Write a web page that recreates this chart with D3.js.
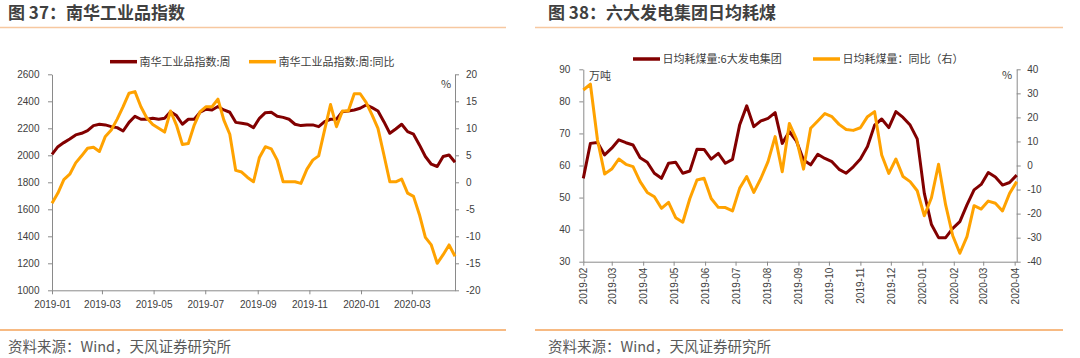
<!DOCTYPE html>
<html><head><meta charset="utf-8">
<script src="https://cdn.jsdelivr.net/npm/d3@7"></script>
<style>body{margin:0;background:#fff} svg{display:block}</style>
</head><body><svg id="c" width="1080" height="358"></svg>
<script>
// ---- Figure 37: Nanhua industrial index (weekly) ----
const nhStart = "2019-01-04";
const nhEnd = "2020-04-24";
const nhIndex = [2007,2064,2094,2121,2151,2163,2183,2220,2230,2225,
  2212,2205,2180,2244,2289,2267,2267,2274,2267,2274,
  2323,2294,2230,2267,2267,2319,2341,2336,2361,2336,
  2319,2244,2237,2230,2205,2274,2316,2319,2289,2281,
  2267,2230,2220,2225,2225,2212,2249,2267,2267,2323,
  2328,2336,2348,2373,2353,2328,2249,2163,2195,2230,
  2175,2156,2077,1991,1934,1917,1991,2002,1948];
const nhYoY = [-3.9,-2.0,0.5,1.5,3.6,4.9,6.3,6.5,5.7,8.5,
  9.7,11.7,14.0,16.5,16.8,14.0,11.9,10.7,10.0,9.3,
  13.2,10.6,7.0,7.2,10.6,13.1,14.0,14.0,15.4,11.5,
  8.9,2.2,1.9,0.9,0.1,4.6,6.6,6.2,4.1,0.1,
  0.1,0.1,-0.2,2.4,4.1,4.9,9.7,14.4,10.3,13.2,
  13.2,16.4,16.4,14.8,12.5,10.0,5.1,0.1,0.1,0.6,
  -2.0,-2.6,-6.0,-10.2,-11.6,-15.0,-13.4,-11.6,-13.7];
const nhLeftTicks = [1000,1200,1400,1600,1800,2000,2200,2400,2600];
const nhRightTicks = [-20,-15,-10,-5,0,5,10,15,20];
const nhSeriesNames = ["南华工业品指数:周","南华工业品指数:周:同比"];

// ---- Figure 38: daily coal consumption, 6 power groups (weekly) ----
const cdStart = "2019-02-01";
const cdEnd = "2020-04-03";
const cdConsumption = [56.0,66.9,67.2,63.3,65.4,68.0,67.1,66.4,62.4,61.0,
  57.6,56.0,60.7,61.0,57.6,58.3,65.1,65.0,62.0,63.8,
  60.7,61.9,72.6,78.6,72.1,73.9,74.7,76.5,66.9,70.6,
  67.6,61.7,60.2,63.5,62.2,61.2,58.8,57.6,59.6,62.0,
  65.9,72.6,74.5,71.8,76.8,75.0,72.6,68.3,51.3,41.6,
  37.5,37.5,40.4,42.5,47.7,52.4,54.1,57.8,56.4,53.9,
  54.7,57.0];
const cdYoY = [31.4,33.8,10.6,-3.5,-1.5,2.7,0.5,-0.5,-6.7,-11.2,
  -13.0,-17.8,-15.3,-21.7,-23.6,-13.7,-6.0,-5.3,-13.7,-17.4,
  -17.5,-18.9,-9.5,-4.6,-11.2,-5.3,1.6,12.0,-2.6,17.5,
  11.0,-1.5,15.5,18.5,21.6,20.3,17.1,15.0,14.6,15.7,
  20.3,22.4,4.4,-3.3,2.7,-4.6,-6.7,-10.5,-20.9,-13.4,
  0.5,-16.4,-29.2,-36.5,-29.6,-16.7,-18.1,-14.8,-15.7,-18.9,
  -11.6,-6.7];
const cdLeftTicks = [30,40,50,60,70,80,90];
const cdRightTicks = [-40,-30,-20,-10,0,10,20,30,40];
const cdSeriesNames = ["日均耗煤量:6大发电集团","日均耗煤量：同比（右）"];

const RED = "#820000", ORANGE = "#FFA200";
const AXIS = "#8a8a8a", TXT = "#404040";
const CJK = "'Noto Sans CJK SC','Noto Sans',sans-serif";
const NUM = "'Liberation Sans','Noto Sans CJK SC',sans-serif";
const parse = d3.timeParse("%Y-%m-%d");
const fmt = d3.timeFormat("%Y-%m");
const numFmt = d => String(d);
const svg = d3.select("#c");
svg.append("rect").attr("width",1080).attr("height",358).attr("fill","#fff");

function weekly(start, n){ const s = parse(start); return d3.range(n).map(i => d3.timeDay.offset(s, 7*i)); }

function panel(cfg){
  const g = svg.append("g");
  g.append("text").attr("x", cfg.titleX).attr("y", 18.5).text(cfg.title)
    .attr("font-family", CJK).attr("font-size", 17).attr("font-weight", 700).attr("fill", TXT);
  g.append("line").attr("x1", cfg.lineX0).attr("x2", cfg.lineX1).attr("y1", 27.5).attr("y2", 27.5)
    .attr("stroke", "#f7c8a0").attr("stroke-width", 1.6);
  g.append("line").attr("x1", cfg.lineX0).attr("x2", cfg.lineX1).attr("y1", 330).attr("y2", 330)
    .attr("stroke", "#f5a35a").attr("stroke-width", 1.4);
  g.append("text").attr("x", cfg.titleX).attr("y", 352).text("资料来源：Wind，天风证券研究所")
    .attr("font-family", CJK).attr("font-size", 14.5).attr("fill", "#595959");

  const dates = weekly(cfg.start, cfg.s1.length);
  const x = d3.scaleTime().domain([parse(cfg.start), parse(cfg.end)]).range([cfg.x0, cfg.x1]);
  const yl = d3.scaleLinear().domain(d3.extent(cfg.leftTicks)).range([cfg.y1, cfg.y0]);
  const yr = d3.scaleLinear().domain(d3.extent(cfg.rightTicks)).range([cfg.y1, cfg.y0]);

  const ax = g.append("g").attr("transform", `translate(${cfg.x0},0)`)
    .call(d3.axisLeft(yl).tickValues(cfg.leftTicks).tickFormat(numFmt).tickSize(4).tickPadding(cfg.lPad).tickSizeOuter(0));
  const ar = g.append("g").attr("transform", `translate(${cfg.x1},0)`)
    .call(d3.axisRight(yr).tickValues(cfg.rightTicks).tickFormat(numFmt).tickSize(4).tickPadding(cfg.rPad).tickSizeOuter(0));
  const ab = g.append("g").attr("transform", `translate(0,${cfg.y1})`)
    .call(d3.axisBottom(x).tickValues(cfg.xTicks).tickFormat(fmt).tickSize(4).tickPadding(7).tickSizeOuter(0));
  if (cfg.rotate) {
    ab.selectAll(".tick text").attr("transform","rotate(-90)").attr("text-anchor","end")
      .attr("x", -6).attr("y", 0).attr("dy","0.35em");
  }
  [ax, ar, ab].forEach(a => {
    a.selectAll(".domain").attr("stroke", AXIS);
    a.selectAll(".tick line").attr("stroke", AXIS);
    a.selectAll(".tick text").attr("fill", TXT).attr("font-family", NUM).attr("font-size", 10);
  });

  const lineL = d3.line().x((d,i) => x(dates[i])).y(d => yl(d));
  const lineR = d3.line().x((d,i) => x(dates[i])).y(d => yr(d));
  g.append("path").datum(cfg.s1).attr("d", lineL).attr("fill","none").attr("stroke", RED)
    .attr("stroke-width", 3).attr("stroke-linejoin","round");
  g.append("path").datum(cfg.s2).attr("d", lineR).attr("fill","none").attr("stroke", ORANGE)
    .attr("stroke-width", 3).attr("stroke-linejoin","round");

  cfg.legend.forEach((L, i) => {
    g.append("line").attr("x1", L.x).attr("x2", L.x + 27).attr("y1", cfg.legY).attr("y2", cfg.legY)
      .attr("stroke", i === 0 ? RED : ORANGE).attr("stroke-width", 3.5);
    g.append("text").attr("x", L.x + 29.5).attr("y", cfg.legY + 3.8).text(cfg.names[i])
      .attr("font-family", CJK).attr("font-size", 11).attr("fill", TXT);
  });
  cfg.units.forEach(u => g.append("text").attr("x", u.x).attr("y", u.y).text(u.t)
    .attr("font-family", CJK).attr("font-size", 11).attr("fill", TXT));
}

panel({
  title: "图 37：南华工业品指数", titleX: 8, lineX0: 0, lineX1: 506,
  start: nhStart, end: nhEnd, s1: nhIndex, s2: nhYoY,
  x0: 52, x1: 455, y0: 74.3, y1: 290.3,
  leftTicks: nhLeftTicks, rightTicks: nhRightTicks, lPad: 8.5, rPad: 7,
  xTicks: d3.range(8).map(i => d3.timeMonth.offset(parse(nhStart), 2*i)),
  rotate: false, legY: 61.7, names: nhSeriesNames,
  legend: [{x: 110}, {x: 249}],
  units: [{x: 441, y: 88, t: "%"}]
});
panel({
  title: "图 38：六大发电集团日均耗煤", titleX: 548, lineX0: 535, lineX1: 1063,
  start: cdStart, end: cdEnd, s1: cdConsumption, s2: cdYoY,
  x0: 583.3, x1: 1016.7, y0: 69.3, y1: 261.7,
  leftTicks: cdLeftTicks, rightTicks: cdRightTicks, lPad: 9, rPad: 6.5,
  xTicks: d3.timeMonth.range(parse("2019-02-01"), parse("2020-04-02")),
  rotate: true, legY: 59, names: cdSeriesNames,
  legend: [{x: 633}, {x: 813}],
  units: [{x: 589, y: 80, t: "万吨"}, {x: 1002, y: 79, t: "%"}]
});
</script>
</body></html>
